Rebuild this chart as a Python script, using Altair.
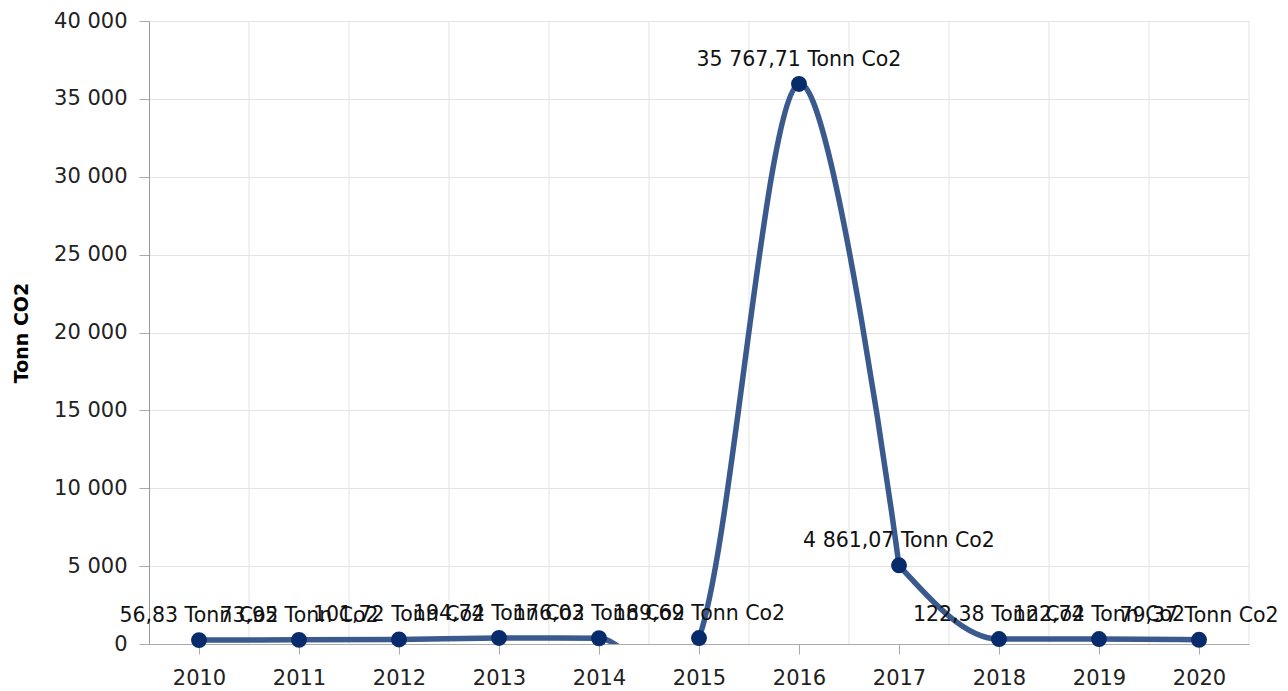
import altair as alt
import pandas as pd

years = [2010, 2011, 2012, 2013, 2014, 2015, 2016, 2017, 2018, 2019, 2020]
values = [56.83, 73.95, 101.72, 194.74, 176.03, 189.69, 35767.71, 4861.07, 122.38, 122.74, 79.37]
unit = "Tonn Co2"
y_ticks = [0, 5000, 10000, 15000, 20000, 25000, 30000, 35000, 40000]


def fmt(v):
    s = f"{v:,.2f}"
    return s.replace(",", " ").replace(".", ",") + " " + unit


df = pd.DataFrame({"year": years, "value": values, "label": [fmt(v) for v in values]})
grid_df = pd.DataFrame({"gx": [y + 0.5 for y in years]})

FONT = "DejaVu Sans"
x_scale = alt.Scale(domain=[years[0] - 0.5, years[-1] + 0.5], nice=False, zero=False)
y_scale = alt.Scale(domain=[0, 40000], nice=False)

x_axis = alt.Axis(
    values=years, format="d", title=None, grid=False,
    labelFontSize=21, labelFont=FONT, labelColor="#222", labelPadding=13,
    tickSize=10, tickColor="#aaaaaa", domainColor="#aaaaaa", labelFlush=False,
)
y_axis = alt.Axis(
    values=y_ticks, title="Tonn CO2", titleFontSize=19, titleFont=FONT,
    titleFontWeight="bold", titleColor="#000", titlePadding=22,
    labelFontSize=21, labelFont=FONT, labelColor="#222", labelPadding=12,
    labelExpr="replace(format(datum.value, ',d'), ',', ' ')",
    tickSize=10, tickColor="#aaaaaa", domainColor="#999999",
    gridColor="#e3e3e3",
)

vgrid = alt.Chart(grid_df).mark_rule(color="#e3e3e3", strokeWidth=1).encode(
    x=alt.X("gx:Q", scale=x_scale, axis=x_axis)
)

base = alt.Chart(df).encode(
    x=alt.X("year:Q", scale=x_scale, axis=x_axis),
    y=alt.Y("value:Q", scale=y_scale, axis=y_axis),
)

LINE = dict(color="#3a5a8e", strokeWidth=5.5, clip=True, yOffset=-3)
line_a = base.transform_filter(alt.datum.year <= 2017).mark_line(interpolate="cardinal", **LINE)
line_b = base.transform_filter(alt.datum.year >= 2017).mark_line(interpolate="monotone", **LINE)
points = base.mark_circle(color="#082b6b", size=254, opacity=1, yOffset=-3)
labels = base.mark_text(
    font=FONT, fontSize=20.5, color="#111", baseline="alphabetic", align="center", dy=-21
).encode(text="label:N")

chart = (
    alt.layer(vgrid, line_a, line_b, points, labels)
    .properties(width=1100, height=623, padding={"left": 4, "top": 2, "right": 0, "bottom": 0})
    .configure_view(stroke=None)
    .configure_axis(domainWidth=1)
)

chart.save("out.html", embed_options={"renderer": "svg", "actions": False})
